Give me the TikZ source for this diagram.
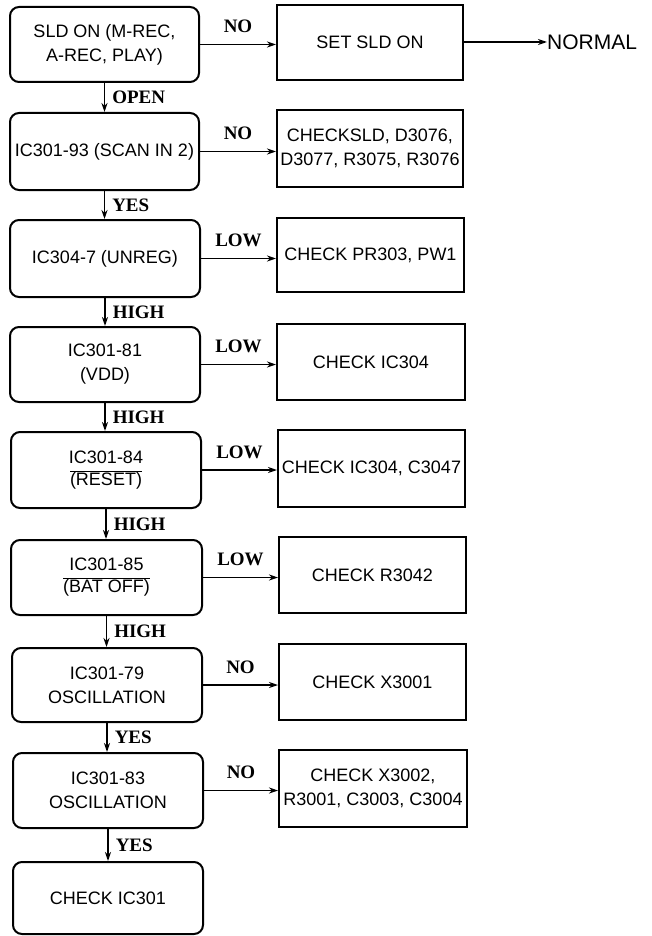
\documentclass[tikz,border=0pt]{standalone}
\usepackage{fontspec}
\setmainfont{Liberation Sans}
\newfontfamily\lblfont{Liberation Serif}
\usetikzlibrary{arrows.meta,calc}
\begin{document}
\begin{tikzpicture}[x=1pt,y=-1pt,
  lbox/.style={draw, line width=2pt, rounded corners=9pt, align=center, inner sep=0pt, font=\fontsize{18}{24}\selectfont},
  rbox/.style={draw, line width=2pt, align=center, inner sep=0pt, font=\fontsize{18}{24}\selectfont},
  arr/.style={line width=1.5pt, -{Stealth[length=9pt,width=6pt]}},
  hlab/.style={font=\lblfont\bfseries\fontsize{19}{22}\selectfont, inner sep=0pt, anchor=center, yshift=18pt},
  vlab/.style={font=\lblfont\bfseries\fontsize{19}{22}\selectfont, inner sep=0pt, anchor=west, xshift=7pt}
]
\useasboundingbox (0,0) rectangle (651,936);
% left column
\node[lbox, minimum width=189pt, minimum height=75pt] (b1) at (104.5,44.5) {SLD ON (M-REC,\\A-REC, PLAY)};
\node[lbox, minimum width=189pt, minimum height=77pt] (b2) at (104.5,151.5) {IC301-93 (SCAN IN 2)};
\node[lbox, minimum width=190pt, minimum height=77pt] (b3) at (105,258.5) {IC304-7 (UNREG)};
\node[lbox, minimum width=190pt, minimum height=75pt] (b4) at (105,364.5) {IC301-81\\(VDD)};
\node[lbox, minimum width=190pt, minimum height=76pt] (b5) at (106,470) {IC301-84\\[-2pt]$\overline{\mbox{(RESET)}}$};
\node[lbox, minimum width=191pt, minimum height=75pt] (b6) at (106.5,577.5) {IC301-85\\[-2pt]$\overline{\mbox{(BAT OFF)}}$};
\node[lbox, minimum width=190pt, minimum height=74pt] (b7) at (107,685) {IC301-79\\OSCILLATION};
\node[lbox, minimum width=190pt, minimum height=75pt] (b8) at (108,790.5) {IC301-83\\OSCILLATION};
\node[lbox, minimum width=190pt, minimum height=72pt] (b9) at (108,898) {CHECK IC301};
% right column
\node[rbox, minimum width=186pt, minimum height=75pt] (r1) at (370,42.5) {SET SLD ON};
\node[rbox, minimum width=186pt, minimum height=77pt] (r2) at (370,148.5) {CHECKSLD, D3076,\\D3077, R3075, R3076};
\node[rbox, minimum width=187pt, minimum height=74pt] (r3) at (370.5,255) {CHECK PR303, PW1};
\node[rbox, minimum width=188pt, minimum height=76pt] (r4) at (371,362) {CHECK IC304};
\node[rbox, minimum width=187pt, minimum height=77pt] (r5) at (371.5,468.5) {CHECK IC304, C3047};
\node[rbox, minimum width=187pt, minimum height=76pt] (r6) at (372.5,575) {CHECK R3042};
\node[rbox, minimum width=187pt, minimum height=76pt] (r7) at (372.5,682) {CHECK X3001};
\node[rbox, minimum width=188pt, minimum height=77pt] (r8) at (373,788.5) {CHECK X3002,\\R3001, C3003, C3004};
\node[anchor=west, inner sep=0pt, font=\fontsize{21}{24}\selectfont] (normal) at (547,42) {NORMAL};
% horizontal arrows
\draw[arr] (r1.east |- normal.west) -- (normal.west);
\draw[arr] (b1.east) -- (b1.east -| r1.west) node[midway, hlab] {NO};
\draw[arr] (b2.east) -- (b2.east -| r2.west) node[midway, hlab] {NO};
\draw[arr] (b3.east) -- (b3.east -| r3.west) node[midway, hlab] {LOW};
\draw[arr] (b4.east) -- (b4.east -| r4.west) node[midway, hlab] {LOW};
\draw[arr] (b5.east) -- (b5.east -| r5.west) node[midway, hlab] {LOW};
\draw[arr] (b6.east) -- (b6.east -| r6.west) node[midway, hlab] {LOW};
\draw[arr] (b7.east) -- (b7.east -| r7.west) node[midway, hlab] {NO};
\draw[arr] (b8.east) -- (b8.east -| r8.west) node[midway, hlab] {NO};
% vertical arrows
\draw[arr] (b1.south) -- (b1.south |- b2.north) node[midway, vlab] {OPEN};
\draw[arr] (b2.south) -- (b2.south |- b3.north) node[midway, vlab] {YES};
\draw[arr] (b3.south) -- (b3.south |- b4.north) node[midway, vlab] {HIGH};
\draw[arr] (b4.south) -- (b4.south |- b5.north) node[midway, vlab] {HIGH};
\draw[arr] (b5.south) -- (b5.south |- b6.north) node[midway, vlab] {HIGH};
\draw[arr] (b6.south) -- (b6.south |- b7.north) node[midway, vlab] {HIGH};
\draw[arr] (b7.south) -- (b7.south |- b8.north) node[midway, vlab] {YES};
\draw[arr] (b8.south) -- (b8.south |- b9.north) node[midway, vlab] {YES};
\end{tikzpicture}
\end{document}
